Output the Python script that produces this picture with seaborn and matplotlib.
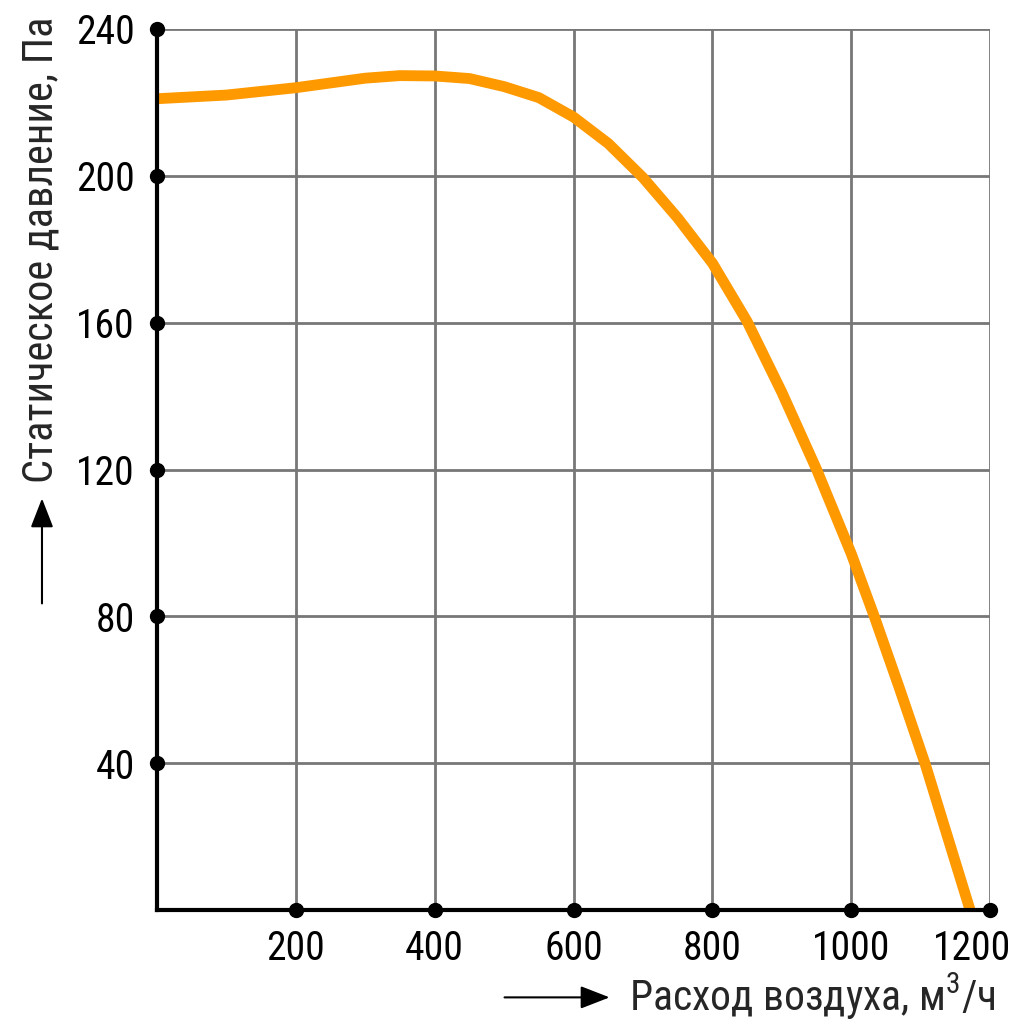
import matplotlib
matplotlib.use("Agg")
import matplotlib.pyplot as plt
from matplotlib.transforms import ScaledTranslation
import seaborn as sns
import pandas as pd

# fan curve
flow = [0, 100, 200, 300, 350, 400, 450, 500, 550, 600, 650, 700, 750, 800, 850, 900, 950, 1000, 1033, 1070, 1106, 1171]
pressure = [221, 222, 224, 226.6, 227.3, 227.2, 226.5, 224.3, 221.3, 216, 208.8, 199.5, 188.5, 176.2, 160.3, 141, 120, 97, 80, 60, 40, 0]

x_ticks = [200, 400, 600, 800, 1000, 1200]
y_ticks = [40, 80, 120, 160, 200, 240]

x_label = "Расход воздуха, м$^{3}$/ч"
y_label = "Статическое давление, Па"

df = pd.DataFrame({"flow": flow, "pressure": pressure})

sns.set_style("white")
plt.rcParams["font.family"] = ["Roboto Condensed", "DejaVu Sans"]
plt.rcParams["mathtext.fontset"] = "custom"
plt.rcParams["mathtext.rm"] = "Roboto Condensed"
plt.rcParams["mathtext.default"] = "rm"

fig = plt.figure(figsize=(10.24, 10.24), dpi=100)
ax = fig.add_axes([0.1533, 0.1113, 0.8137, 0.8604])

ax.set_xlim(0, 1200)
ax.set_ylim(0, 240)
ax.set_xticks(x_ticks)
ax.set_yticks(y_ticks)
ax.grid(True, color="#777777", linewidth=2)
ax.set_axisbelow(True)

sns.lineplot(data=df, x="flow", y="pressure", ax=ax, color="#ff9900",
             linewidth=7.8, solid_capstyle="butt", solid_joinstyle="round", zorder=3)

for side in ["top", "right"]:
    ax.spines[side].set_visible(False)
for side in ["left", "bottom"]:
    ax.spines[side].set_color("black")
    ax.spines[side].set_linewidth(3)
    ax.spines[side].set_zorder(4)

# dots on the axes at every tick
ax.plot(x_ticks, [0] * len(x_ticks), "o", color="black", markersize=10, clip_on=False, zorder=5)
ax.plot([0] * len(y_ticks), y_ticks, "o", color="black", markersize=10, clip_on=False, zorder=5)

ax.tick_params(axis="both", length=0, labelsize=28.5, colors="black")
ax.tick_params(axis="x", pad=14)
ax.tick_params(axis="y", pad=16)
ax.set_xlabel("")
ax.set_ylabel("")

# last x label sits a bit left so it stays inside the picture
last = ax.get_xticklabels()[-1]
last.set_transform(last.get_transform() + ScaledTranslation(-0.18, 0, fig.dpi_scale_trans))

# axis titles with arrows
fig.text(0.972, 0.026, x_label, ha="right", va="center", fontsize=30)
fig.text(0.040, 0.528, y_label, ha="center", va="bottom", rotation=90, fontsize=30.5)
fig.add_artist(matplotlib.patches.FancyArrowPatch(
    (0.490, 0.026), (0.598, 0.026), transform=fig.transFigure,
    arrowstyle="-|>,head_length=0.9,head_width=0.35", mutation_scale=20,
    color="black", linewidth=1.5))
fig.add_artist(matplotlib.patches.FancyArrowPatch(
    (0.041, 0.408), (0.041, 0.516), transform=fig.transFigure,
    arrowstyle="-|>,head_length=0.9,head_width=0.35", mutation_scale=20,
    color="black", linewidth=1.5))

fig.savefig("out.png", dpi=100)
